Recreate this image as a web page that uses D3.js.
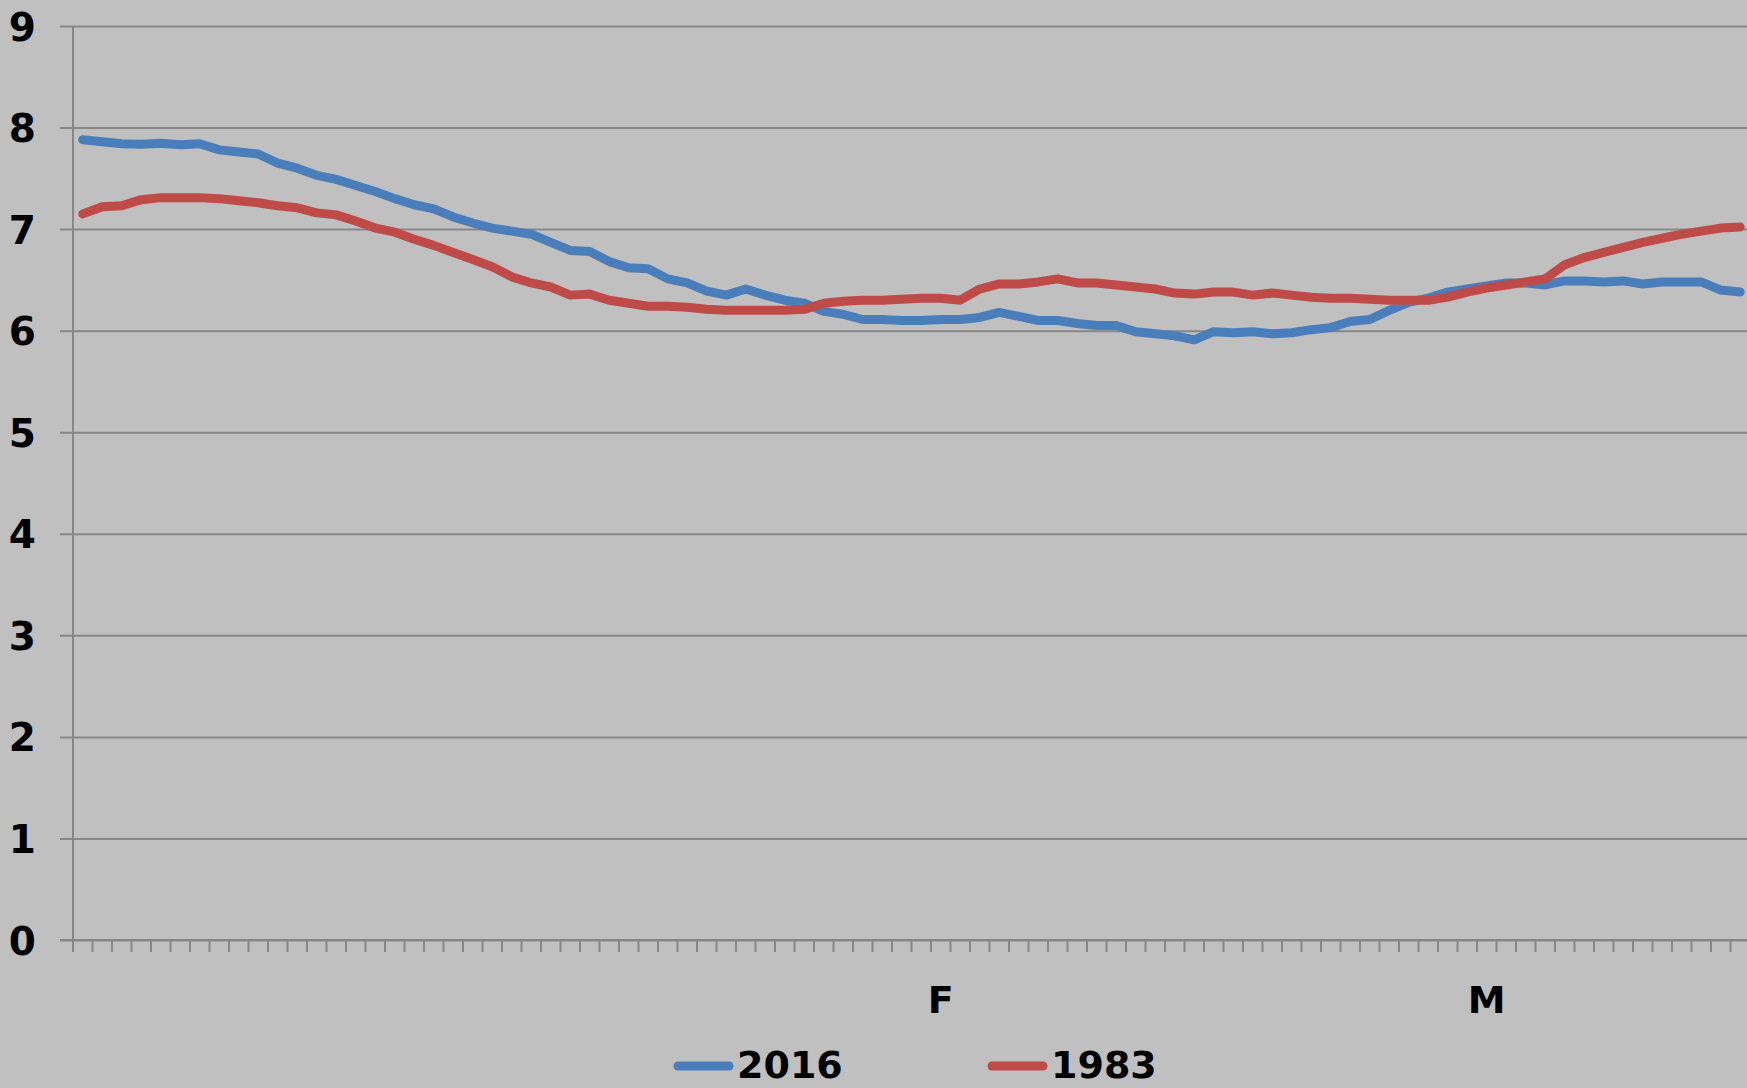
<!DOCTYPE html>
<html lang="en">
<head>
    <meta charset="UTF-8">
    <title>2016 vs 1983</title>
    <script src="https://cdn.jsdelivr.net/npm/d3@7"></script>
    <style>
        body {
          margin: 0;
          background: #c0c0c0;
        }
        text {
          font-family: "DejaVu Sans", Verdana, sans-serif;
          font-weight: bold;
          fill: #000;
        }
    </style>
</head>
<body>
    <script>
        // daily values, one per category
        let s2016 = [7.88, 7.86, 7.84, 7.835, 7.846, 7.83, 7.84, 7.78, 7.76, 7.74,
                     7.65, 7.60, 7.53, 7.49, 7.43, 7.37, 7.30, 7.24, 7.20, 7.12,
                     7.06, 7.01, 6.98, 6.95, 6.87, 6.79, 6.78, 6.68, 6.62, 6.61,
                     6.51, 6.47, 6.39, 6.35, 6.41, 6.35, 6.30, 6.27, 6.19, 6.16,
                     6.11, 6.11, 6.10, 6.10, 6.11, 6.11, 6.13, 6.18, 6.14, 6.10,
                     6.10, 6.07, 6.05, 6.05, 5.99, 5.97, 5.95, 5.91, 5.99, 5.98,
                     5.99, 5.97, 5.98, 6.01, 6.03, 6.09, 6.11, 6.20, 6.28, 6.32,
                     6.38, 6.41, 6.44, 6.47, 6.47, 6.45, 6.49, 6.49, 6.48, 6.49,
                     6.46, 6.48, 6.48, 6.48, 6.40, 6.38];
        let s1983 = [7.15, 7.22, 7.23, 7.29, 7.31, 7.31, 7.31, 7.30, 7.28, 7.26,
                     7.23, 7.21, 7.16, 7.14, 7.08, 7.01, 6.97, 6.90, 6.84, 6.77,
                     6.70, 6.63, 6.53, 6.47, 6.43, 6.35, 6.36, 6.30, 6.27, 6.24,
                     6.24, 6.23, 6.21, 6.20, 6.20, 6.20, 6.20, 6.21, 6.27, 6.29,
                     6.30, 6.30, 6.31, 6.32, 6.32, 6.30, 6.41, 6.46, 6.46, 6.48,
                     6.51, 6.47, 6.47, 6.45, 6.43, 6.41, 6.37, 6.36, 6.38, 6.38,
                     6.35, 6.37, 6.35, 6.33, 6.32, 6.32, 6.31, 6.30, 6.30, 6.30,
                     6.33, 6.38, 6.42, 6.45, 6.48, 6.51, 6.65, 6.72, 6.77, 6.82,
                     6.87, 6.91, 6.95, 6.98, 7.01, 7.02];
        let seriesNames = ['2016', '1983'];
        let colors = ['#4a7ebb', '#be4b48'];
        // only the first day of each month gets a label
        let monthLabels = ['F', 'M'];
        let monthIndex = [44, 72];
        let yTicks = [0, 1, 2, 3, 4, 5, 6, 7, 8, 9];

        let w = 1747;
        let h = 1088;
        let plotLeft = 73, plotRight = 1750, plotTop = 26, plotBottom = 940;

        let categories = s2016.map((d, i) => i);

        let svg = d3.select('body')
                    .append('svg')
                    .attr('width', w)
                    .attr('height', h)
                    .style('display', 'block');

        svg.append('rect')
           .attr('width', w)
           .attr('height', h)
           .attr('fill', '#c0c0c0');

        let x = d3.scaleBand()
                  .domain(categories)
                  .range([plotLeft, plotRight]);
        let y = d3.scaleLinear()
                  .domain([0, 9])
                  .range([plotBottom, plotTop]);

        // horizontal gridlines + value labels
        svg.append('g')
           .attr('transform', 'translate(' + plotLeft + ',0)')
           .call(d3.axisLeft(y).tickValues(yTicks).tickSize(-(plotRight - plotLeft)).tickSizeOuter(0).tickPadding(37).tickFormat(d3.format('d')))
           .call(g => g.select('.domain').remove())
           .call(g => g.selectAll('.tick line')
                       .attr('x1', -13)
                       .attr('stroke', '#878787')
                       .attr('stroke-width', 2))
           .call(g => g.selectAll('.tick text')
                       .attr('font-size', 39)
                       .attr('font-family', '"DejaVu Sans", Verdana, sans-serif')
                       .attr('font-weight', 'bold')
                       .attr('fill', '#000')
                       .attr('dy', '0.36em'));

        // vertical axis line
        svg.append('line')
           .attr('x1', plotLeft).attr('x2', plotLeft)
           .attr('y1', plotTop).attr('y2', plotBottom + 12)
           .attr('stroke', '#878787')
           .attr('stroke-width', 2);

        // category ticks on the bottom
        let edges = categories.map(i => x(i)).concat([plotRight]);
        svg.append('g')
           .selectAll('line')
           .data(edges)
           .enter()
           .append('line')
           .attr('x1', d => d).attr('x2', d => d)
           .attr('y1', plotBottom).attr('y2', plotBottom + 12)
           .attr('stroke', '#878787')
           .attr('stroke-width', 2);

        svg.append('line')
           .attr('x1', plotLeft - 13).attr('x2', plotRight)
           .attr('y1', plotBottom).attr('y2', plotBottom)
           .attr('stroke', '#878787')
           .attr('stroke-width', 2);

        svg.append('g')
           .selectAll('text')
           .data(monthLabels)
           .enter()
           .append('text')
           .attr('x', (d, i) => x(monthIndex[i]) + x.bandwidth() / 2)
           .attr('y', 1013)
           .attr('text-anchor', 'middle')
           .attr('font-size', 38)
           .text(d => d);

        // the two series
        let line = d3.line()
                     .x((d, i) => x(i) + x.bandwidth() / 2)
                     .y(d => y(d));

        [s2016, s1983].forEach(function(s, k) {
            svg.append('path')
               .datum(s)
               .attr('d', line)
               .attr('fill', 'none')
               .attr('stroke', colors[k])
               .attr('stroke-width', 9)
               .attr('stroke-linejoin', 'round')
               .attr('stroke-linecap', 'round');
        });

        // legend (pulled up a little so the labels stay inside the picture)
        let legendX = [678, 992];
        let legend = svg.append('g')
                        .selectAll('g')
                        .data(seriesNames)
                        .enter()
                        .append('g')
                        .attr('transform', (d, i) => 'translate(' + legendX[i] + ',1066)');

        legend.append('line')
              .attr('x1', 0).attr('x2', 51)
              .attr('stroke', (d, i) => colors[i])
              .attr('stroke-width', 9)
              .attr('stroke-linecap', 'round');

        legend.append('text')
              .attr('x', 59)
              .attr('y', 12)
              .attr('font-size', 38)
              .text(d => d);
    </script>
</body>
</html>
